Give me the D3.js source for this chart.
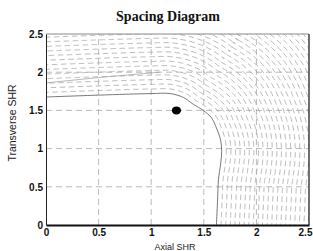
<!DOCTYPE html>
<html>
<head>
<meta charset="utf-8">
<script src="https://cdn.jsdelivr.net/npm/d3@7"></script>
<style>
  body { margin: 0; background: #fff; }
  svg { display: block; }
</style>
</head>
<body>
<div id="chart"></div>
<script>
// Sizes
const width = 313;
const height = 251;
const margin = {top: 34, right: 4, bottom: 26, left: 46};
const fieldStep = 4.6;
const fieldCount = 34;

// Data
const xTicks = [0, 0.5, 1, 1.5, 2, 2.5];
const yTicks = [0, 0.5, 1, 1.5, 2, 2.5];
// boundary, from the bottom axis up round the corner to the left axis
const boundaryX = [1.62, 1.63, 1.64, 1.66, 1.67, 1.66, 1.62, 1.575, 1.495, 1.40, 1.305, 1.18, 1.0, 0.5, 0];
const boundaryY = [0, 0.3, 0.6, 0.8, 0.96, 1.11, 1.27, 1.40, 1.50, 1.58, 1.67, 1.72, 1.72, 1.70, 1.675];
const upperLineX = [0, 0.5, 1.08];
const upperLineY = [1.86, 1.93, 2.0];
const dotX = 1.24;
const dotY = 1.5;

// Colors
const gridGray = '#a8a8a8';
const fieldGray = '#9c9c9c';
const lineGray = '#6a6a6a';

const boundary = boundaryX.map((v, i) => [v, boundaryY[i]]);
const upperLine = upperLineX.map((v, i) => [v, upperLineY[i]]);

// Scales
const x = d3.scaleLinear().domain([0, 2.5]).range([margin.left, width - margin.right]);
const y = d3.scaleLinear().domain([0, 2.5]).range([height - margin.bottom, margin.top]);

const svg = d3.select('#chart').append('svg')
  .attr('width', width)
  .attr('height', height)
  .style('font-family', '"Liberation Sans", Arial, sans-serif');

svg.append('clipPath')
  .attr('id', 'plot-clip')
  .append('rect')
  .attr('x', x(0))
  .attr('y', y(2.5))
  .attr('width', x(2.5) - x(0))
  .attr('height', y(0) - y(2.5));

const plot = svg.append('g').attr('clip-path', 'url(#plot-clip)');

// Layers
const field = plot.append('g')
  .attr('class', 'field')
  .attr('fill', 'none')
  .attr('stroke', fieldGray)
  .attr('stroke-width', 0.7)
  .attr('stroke-dasharray', '5.5,3.5');
const grid = plot.append('g')
  .attr('stroke', gridGray)
  .attr('stroke-width', 0.8)
  .attr('stroke-dasharray', '6,4');

// Boundary path
const line = d3.line().x(d => x(d[0])).y(d => y(d[1])).curve(d3.curveCatmullRom);
const boundaryPath = plot.append('path')
  .attr('d', line(boundary))
  .attr('fill', 'none')
  .attr('stroke', lineGray)
  .attr('stroke-width', 0.9);

// Dashed field lines, parallel to the boundary
const node = boundaryPath.node();
const total = node.getTotalLength();
const samples = d3.range(0, total, 1).concat([total]).map(l => node.getPointAtLength(l));
const normals = samples.map((p, i) => {
  const a = samples[Math.max(0, i - 2)];
  const b = samples[Math.min(samples.length - 1, i + 2)];
  const dx = b.x - a.x, dy = b.y - a.y, len = Math.hypot(dx, dy);
  return [-dy / len, dx / len];
});

d3.range(1, fieldCount + 1).forEach(k => {
  const d = k * fieldStep;
  const pts = samples.map((p, i) => [p.x + normals[i][0] * d, p.y + normals[i][1] * d]);
  const first = pts[0], last = pts[pts.length - 1];
  pts.unshift([first[0], first[1] + 10]);
  pts.push([last[0] - 10, last[1]]);
  field.append('path')
    .attr('d', d3.line()(pts));
});

// Grid
grid.selectAll('.gx')
  .data(xTicks.slice(1, -1))
  .join('line')
  .attr('class', 'gx')
  .attr('x1', d => x(d)).attr('x2', d => x(d))
  .attr('y1', y(0)).attr('y2', y(2.5));
grid.selectAll('.gy')
  .data(yTicks.slice(1, -1))
  .join('line')
  .attr('class', 'gy')
  .attr('y1', d => y(d)).attr('y2', d => y(d))
  .attr('x1', x(0)).attr('x2', x(2.5));

// Faint upper line
plot.append('path')
  .attr('d', d3.line().x(d => x(d[0])).y(d => y(d[1]))(upperLine))
  .attr('fill', 'none')
  .attr('stroke', '#999')
  .attr('stroke-width', 0.7);

// Dot
plot.append('ellipse')
  .attr('cx', x(dotX))
  .attr('cy', y(dotY))
  .attr('rx', 4.6)
  .attr('ry', 4)
  .attr('fill', '#000');

// Frame
svg.append('line')
  .attr('x1', x(0)).attr('x2', x(2.5)).attr('y1', y(2.5)).attr('y2', y(2.5))
  .attr('stroke', '#888').attr('stroke-width', 1);
svg.append('line')
  .attr('x1', x(2.5)).attr('x2', x(2.5)).attr('y1', y(2.5)).attr('y2', y(0))
  .attr('stroke', '#333').attr('stroke-width', 1.4);

// Axes
const fmt = d3.format('~g');
const xAxis = svg.append('g')
  .attr('transform', `translate(0,${y(0)})`)
  .call(d3.axisBottom(x).tickValues(xTicks).tickFormat(fmt).tickSize(0).tickPadding(4));
xAxis.select('.domain').attr('stroke', '#111').attr('stroke-width', 2);
// last label sits against the right edge
xAxis.selectAll('.tick text').filter(d => d === 2.5).attr('dx', -4);

const yAxis = svg.append('g')
  .attr('transform', `translate(${x(0)},0)`)
  .call(d3.axisLeft(y).tickValues(yTicks).tickFormat(fmt).tickSize(0).tickPadding(3));
yAxis.select('.domain').attr('stroke', '#222').attr('stroke-width', 1);

svg.selectAll('.tick text')
  .attr('font-family', '"Liberation Sans", Arial, sans-serif')
  .attr('font-size', 10)
  .attr('font-weight', 'bold')
  .attr('fill', '#111');

// Titles
svg.append('text')
  .attr('x', 168)
  .attr('y', 21)
  .attr('text-anchor', 'middle')
  .attr('font-family', '"Liberation Serif", "Times New Roman", serif')
  .attr('font-weight', 'bold')
  .attr('font-size', 14)
  .attr('fill', '#111')
  .text('Spacing Diagram');

svg.append('text')
  .attr('x', 175)
  .attr('y', 250)
  .attr('text-anchor', 'middle')
  .attr('font-size', 9)
  .attr('fill', '#222')
  .text('Axial SHR');

svg.append('text')
  .attr('transform', 'translate(16,123) rotate(-90)')
  .attr('text-anchor', 'middle')
  .attr('font-size', 10.5)
  .attr('fill', '#222')
  .text('Transverse SHR');
</script>
</body>
</html>
